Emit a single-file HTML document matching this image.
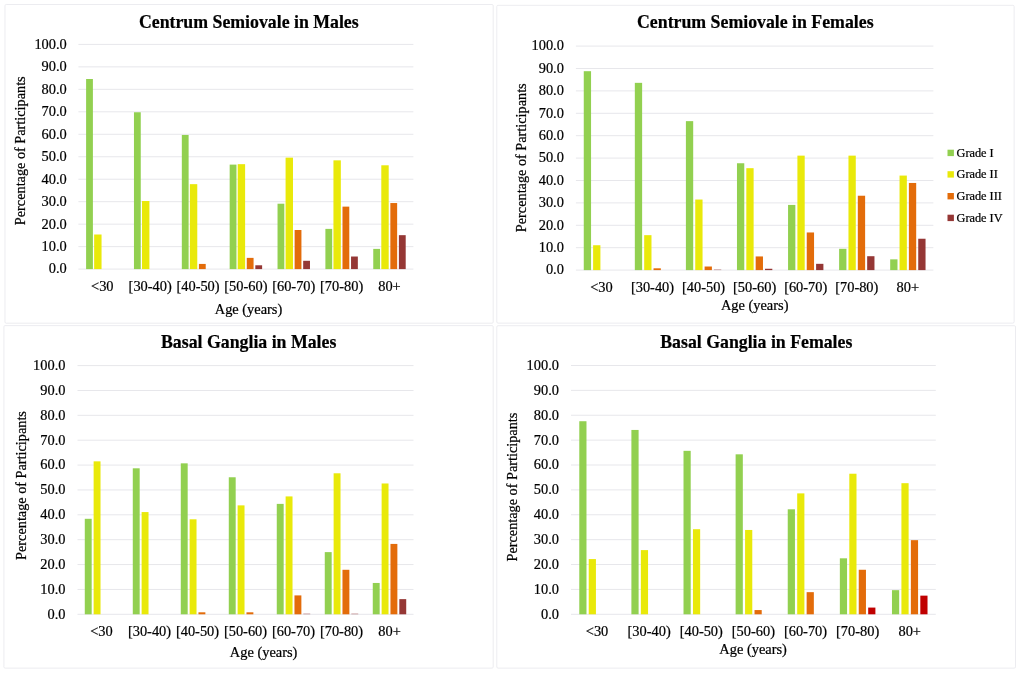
<!DOCTYPE html>
<html lang="en">
<head>
<meta charset="utf-8">
<title>Perivascular spaces by age, sex and region</title>
<style>
html,body{margin:0;padding:0;background:#fff;}
body{width:1020px;height:673px;overflow:hidden;}
svg{display:block;}
svg text{font-family:"Liberation Serif","Times New Roman",serif;fill:#000;stroke:#000;stroke-width:0.22px;}
</style>
</head>
<body>
<svg width="1020" height="673" viewBox="0 0 1020 673">
<rect x="0" y="0" width="1020" height="673" fill="#ffffff"/>
<rect x="5" y="4.5" width="488.2" height="318.7" rx="1.2" fill="#fff" stroke="#e8e8ed" stroke-width="0.85"/>
<line x1="78.4" y1="269.1" x2="413.4" y2="269.1" stroke="#e7e7eb" stroke-width="1"/>
<line x1="78.4" y1="246.63" x2="413.4" y2="246.63" stroke="#e7e7eb" stroke-width="1"/>
<line x1="78.4" y1="224.16" x2="413.4" y2="224.16" stroke="#e7e7eb" stroke-width="1"/>
<line x1="78.4" y1="201.69" x2="413.4" y2="201.69" stroke="#e7e7eb" stroke-width="1"/>
<line x1="78.4" y1="179.22" x2="413.4" y2="179.22" stroke="#e7e7eb" stroke-width="1"/>
<line x1="78.4" y1="156.75" x2="413.4" y2="156.75" stroke="#e7e7eb" stroke-width="1"/>
<line x1="78.4" y1="134.28" x2="413.4" y2="134.28" stroke="#e7e7eb" stroke-width="1"/>
<line x1="78.4" y1="111.81" x2="413.4" y2="111.81" stroke="#e7e7eb" stroke-width="1"/>
<line x1="78.4" y1="89.34" x2="413.4" y2="89.34" stroke="#e7e7eb" stroke-width="1"/>
<line x1="78.4" y1="66.87" x2="413.4" y2="66.87" stroke="#e7e7eb" stroke-width="1"/>
<line x1="78.4" y1="44.4" x2="413.4" y2="44.4" stroke="#e7e7eb" stroke-width="1"/>
<rect x="86.1" y="79" width="6.8" height="190.1" fill="#92d050"/>
<rect x="94.15" y="234.5" width="7.4" height="34.6" fill="#e9e90a"/>
<rect x="133.96" y="112.26" width="6.8" height="156.84" fill="#92d050"/>
<rect x="142.01" y="201.02" width="7.4" height="68.08" fill="#e9e90a"/>
<rect x="181.82" y="134.95" width="6.8" height="134.15" fill="#92d050"/>
<rect x="189.87" y="184.16" width="7.4" height="84.94" fill="#e9e90a"/>
<rect x="198.92" y="263.93" width="6.8" height="5.17" fill="#e36c0a"/>
<rect x="229.67" y="164.61" width="6.8" height="104.49" fill="#92d050"/>
<rect x="237.72" y="164.17" width="7.4" height="104.93" fill="#e9e90a"/>
<rect x="246.77" y="257.87" width="6.8" height="11.23" fill="#e36c0a"/>
<rect x="255.32" y="265.28" width="6.8" height="3.82" fill="#953735"/>
<rect x="277.53" y="203.71" width="6.8" height="65.39" fill="#92d050"/>
<rect x="285.58" y="157.65" width="7.4" height="111.45" fill="#e9e90a"/>
<rect x="294.63" y="230" width="6.8" height="39.1" fill="#e36c0a"/>
<rect x="303.18" y="260.79" width="6.8" height="8.31" fill="#953735"/>
<rect x="325.39" y="228.88" width="6.8" height="40.22" fill="#92d050"/>
<rect x="333.44" y="160.35" width="7.4" height="108.75" fill="#e9e90a"/>
<rect x="342.49" y="206.63" width="6.8" height="62.47" fill="#e36c0a"/>
<rect x="351.04" y="256.52" width="6.8" height="12.58" fill="#953735"/>
<rect x="373.25" y="248.88" width="6.8" height="20.22" fill="#92d050"/>
<rect x="381.3" y="165.29" width="7.4" height="103.81" fill="#e9e90a"/>
<rect x="390.35" y="203.04" width="6.8" height="66.06" fill="#e36c0a"/>
<rect x="398.9" y="235.17" width="6.8" height="33.93" fill="#953735"/>
<text x="66.8" y="269.1" dy="0.305em" text-anchor="end" font-size="14.4">0.0</text>
<text x="66.8" y="246.63" dy="0.305em" text-anchor="end" font-size="14.4">10.0</text>
<text x="66.8" y="224.16" dy="0.305em" text-anchor="end" font-size="14.4">20.0</text>
<text x="66.8" y="201.69" dy="0.305em" text-anchor="end" font-size="14.4">30.0</text>
<text x="66.8" y="179.22" dy="0.305em" text-anchor="end" font-size="14.4">40.0</text>
<text x="66.8" y="156.75" dy="0.305em" text-anchor="end" font-size="14.4">50.0</text>
<text x="66.8" y="134.28" dy="0.305em" text-anchor="end" font-size="14.4">60.0</text>
<text x="66.8" y="111.81" dy="0.305em" text-anchor="end" font-size="14.4">70.0</text>
<text x="66.8" y="89.34" dy="0.305em" text-anchor="end" font-size="14.4">80.0</text>
<text x="66.8" y="66.87" dy="0.305em" text-anchor="end" font-size="14.4">90.0</text>
<text x="66.8" y="44.4" dy="0.305em" text-anchor="end" font-size="14.4">100.0</text>
<text x="102.33" y="286.3" dy="0.33em" text-anchor="middle" font-size="14.4">&lt;30</text>
<text x="150.19" y="286.3" dy="0.33em" text-anchor="middle" font-size="14.4">[30-40)</text>
<text x="198.04" y="286.3" dy="0.33em" text-anchor="middle" font-size="14.4">[40-50)</text>
<text x="245.9" y="286.3" dy="0.33em" text-anchor="middle" font-size="14.4">[50-60)</text>
<text x="293.76" y="286.3" dy="0.33em" text-anchor="middle" font-size="14.4">[60-70)</text>
<text x="341.61" y="286.3" dy="0.33em" text-anchor="middle" font-size="14.4">[70-80)</text>
<text x="389.47" y="286.3" dy="0.33em" text-anchor="middle" font-size="14.4">80+</text>
<text x="248.5" y="309" dy="0.33em" text-anchor="middle" font-size="14.4">Age (years)</text>
<text transform="translate(25,150.75) rotate(-90)" text-anchor="middle" font-size="14.25">Percentage of Participants</text>
<text x="248.8" y="22" dy="0.33em" text-anchor="middle" font-size="17.8" font-weight="bold">Centrum Semiovale in Males</text>
<rect x="496.8" y="5.3" width="517.3" height="317.8" rx="1.2" fill="#fff" stroke="#e8e8ed" stroke-width="0.85"/>
<line x1="575.9" y1="270.1" x2="933.4" y2="270.1" stroke="#e7e7eb" stroke-width="1"/>
<line x1="575.9" y1="247.7" x2="933.4" y2="247.7" stroke="#e7e7eb" stroke-width="1"/>
<line x1="575.9" y1="225.3" x2="933.4" y2="225.3" stroke="#e7e7eb" stroke-width="1"/>
<line x1="575.9" y1="202.9" x2="933.4" y2="202.9" stroke="#e7e7eb" stroke-width="1"/>
<line x1="575.9" y1="180.5" x2="933.4" y2="180.5" stroke="#e7e7eb" stroke-width="1"/>
<line x1="575.9" y1="158.1" x2="933.4" y2="158.1" stroke="#e7e7eb" stroke-width="1"/>
<line x1="575.9" y1="135.7" x2="933.4" y2="135.7" stroke="#e7e7eb" stroke-width="1"/>
<line x1="575.9" y1="113.3" x2="933.4" y2="113.3" stroke="#e7e7eb" stroke-width="1"/>
<line x1="575.9" y1="90.9" x2="933.4" y2="90.9" stroke="#e7e7eb" stroke-width="1"/>
<line x1="575.9" y1="68.5" x2="933.4" y2="68.5" stroke="#e7e7eb" stroke-width="1"/>
<line x1="575.9" y1="46.1" x2="933.4" y2="46.1" stroke="#e7e7eb" stroke-width="1"/>
<rect x="583.76" y="71.19" width="7.3" height="198.91" fill="#92d050"/>
<rect x="593.11" y="245.24" width="7.3" height="24.86" fill="#e9e90a"/>
<rect x="634.83" y="82.84" width="7.3" height="187.26" fill="#92d050"/>
<rect x="644.18" y="235.16" width="7.3" height="34.94" fill="#e9e90a"/>
<rect x="653.53" y="268.31" width="7.3" height="1.79" fill="#e36c0a"/>
<rect x="685.9" y="121.14" width="7.3" height="148.96" fill="#92d050"/>
<rect x="695.25" y="199.54" width="7.3" height="70.56" fill="#e9e90a"/>
<rect x="704.6" y="266.52" width="7.3" height="3.58" fill="#e36c0a"/>
<rect x="713.95" y="269.43" width="7.3" height="0.67" fill="#953735" fill-opacity="0.55"/>
<rect x="736.97" y="163.25" width="7.3" height="106.85" fill="#92d050"/>
<rect x="746.32" y="168.18" width="7.3" height="101.92" fill="#e9e90a"/>
<rect x="755.67" y="256.44" width="7.3" height="13.66" fill="#e36c0a"/>
<rect x="765.02" y="268.76" width="7.3" height="1.34" fill="#953735"/>
<rect x="788.05" y="204.92" width="7.3" height="65.18" fill="#92d050"/>
<rect x="797.4" y="155.64" width="7.3" height="114.46" fill="#e9e90a"/>
<rect x="806.75" y="232.47" width="7.3" height="37.63" fill="#e36c0a"/>
<rect x="816.1" y="263.83" width="7.3" height="6.27" fill="#953735"/>
<rect x="839.12" y="248.82" width="7.3" height="21.28" fill="#92d050"/>
<rect x="848.47" y="155.64" width="7.3" height="114.46" fill="#e9e90a"/>
<rect x="857.82" y="195.73" width="7.3" height="74.37" fill="#e36c0a"/>
<rect x="867.17" y="256.21" width="7.3" height="13.89" fill="#953735"/>
<rect x="890.19" y="259.35" width="7.3" height="10.75" fill="#92d050"/>
<rect x="899.54" y="175.57" width="7.3" height="94.53" fill="#e9e90a"/>
<rect x="908.89" y="182.96" width="7.3" height="87.14" fill="#e36c0a"/>
<rect x="918.24" y="238.74" width="7.3" height="31.36" fill="#953735"/>
<text x="563.9" y="270.1" dy="0.305em" text-anchor="end" font-size="14.4">0.0</text>
<text x="563.9" y="247.7" dy="0.305em" text-anchor="end" font-size="14.4">10.0</text>
<text x="563.9" y="225.3" dy="0.305em" text-anchor="end" font-size="14.4">20.0</text>
<text x="563.9" y="202.9" dy="0.305em" text-anchor="end" font-size="14.4">30.0</text>
<text x="563.9" y="180.5" dy="0.305em" text-anchor="end" font-size="14.4">40.0</text>
<text x="563.9" y="158.1" dy="0.305em" text-anchor="end" font-size="14.4">50.0</text>
<text x="563.9" y="135.7" dy="0.305em" text-anchor="end" font-size="14.4">60.0</text>
<text x="563.9" y="113.3" dy="0.305em" text-anchor="end" font-size="14.4">70.0</text>
<text x="563.9" y="90.9" dy="0.305em" text-anchor="end" font-size="14.4">80.0</text>
<text x="563.9" y="68.5" dy="0.305em" text-anchor="end" font-size="14.4">90.0</text>
<text x="563.9" y="46.1" dy="0.305em" text-anchor="end" font-size="14.4">100.0</text>
<text x="601.44" y="287.2" dy="0.33em" text-anchor="middle" font-size="14.4">&lt;30</text>
<text x="652.51" y="287.2" dy="0.33em" text-anchor="middle" font-size="14.4">[30-40)</text>
<text x="703.58" y="287.2" dy="0.33em" text-anchor="middle" font-size="14.4">[40-50)</text>
<text x="754.65" y="287.2" dy="0.33em" text-anchor="middle" font-size="14.4">[50-60)</text>
<text x="805.72" y="287.2" dy="0.33em" text-anchor="middle" font-size="14.4">[60-70)</text>
<text x="856.79" y="287.2" dy="0.33em" text-anchor="middle" font-size="14.4">[70-80)</text>
<text x="907.86" y="287.2" dy="0.33em" text-anchor="middle" font-size="14.4">80+</text>
<text x="754.7" y="305" dy="0.33em" text-anchor="middle" font-size="14.4">Age (years)</text>
<text transform="translate(526.2,157.75) rotate(-90)" text-anchor="middle" font-size="14.25">Percentage of Participants</text>
<text x="755.3" y="22.5" dy="0.33em" text-anchor="middle" font-size="17.8" font-weight="bold">Centrum Semiovale in Females</text>
<rect x="3.9" y="325.6" width="489.3" height="342.5" rx="1.2" fill="#fff" stroke="#e8e8ed" stroke-width="0.85"/>
<line x1="77.5" y1="614.3" x2="413.5" y2="614.3" stroke="#e7e7eb" stroke-width="1"/>
<line x1="77.5" y1="589.43" x2="413.5" y2="589.43" stroke="#e7e7eb" stroke-width="1"/>
<line x1="77.5" y1="564.56" x2="413.5" y2="564.56" stroke="#e7e7eb" stroke-width="1"/>
<line x1="77.5" y1="539.69" x2="413.5" y2="539.69" stroke="#e7e7eb" stroke-width="1"/>
<line x1="77.5" y1="514.82" x2="413.5" y2="514.82" stroke="#e7e7eb" stroke-width="1"/>
<line x1="77.5" y1="489.95" x2="413.5" y2="489.95" stroke="#e7e7eb" stroke-width="1"/>
<line x1="77.5" y1="465.08" x2="413.5" y2="465.08" stroke="#e7e7eb" stroke-width="1"/>
<line x1="77.5" y1="440.21" x2="413.5" y2="440.21" stroke="#e7e7eb" stroke-width="1"/>
<line x1="77.5" y1="415.34" x2="413.5" y2="415.34" stroke="#e7e7eb" stroke-width="1"/>
<line x1="77.5" y1="390.47" x2="413.5" y2="390.47" stroke="#e7e7eb" stroke-width="1"/>
<line x1="77.5" y1="365.6" x2="413.5" y2="365.6" stroke="#e7e7eb" stroke-width="1"/>
<rect x="84.78" y="518.8" width="6.9" height="95.5" fill="#92d050"/>
<rect x="93.62" y="461.35" width="6.9" height="152.95" fill="#e9e90a"/>
<rect x="132.78" y="468.31" width="6.9" height="145.99" fill="#92d050"/>
<rect x="141.62" y="512.08" width="6.9" height="102.22" fill="#e9e90a"/>
<rect x="180.78" y="463.34" width="6.9" height="150.96" fill="#92d050"/>
<rect x="189.62" y="519.3" width="6.9" height="95" fill="#e9e90a"/>
<rect x="198.47" y="612.31" width="6.9" height="1.99" fill="#e36c0a"/>
<rect x="228.78" y="477.27" width="6.9" height="137.03" fill="#92d050"/>
<rect x="237.62" y="505.37" width="6.9" height="108.93" fill="#e9e90a"/>
<rect x="246.47" y="612.31" width="6.9" height="1.99" fill="#e36c0a"/>
<rect x="276.77" y="503.88" width="6.9" height="110.42" fill="#92d050"/>
<rect x="285.62" y="496.42" width="6.9" height="117.88" fill="#e9e90a"/>
<rect x="294.47" y="595.4" width="6.9" height="18.9" fill="#e36c0a"/>
<rect x="303.32" y="613.55" width="6.9" height="0.75" fill="#953735" fill-opacity="0.55"/>
<rect x="324.77" y="552.12" width="6.9" height="62.17" fill="#92d050"/>
<rect x="333.62" y="473.29" width="6.9" height="141.01" fill="#e9e90a"/>
<rect x="342.47" y="569.78" width="6.9" height="44.52" fill="#e36c0a"/>
<rect x="351.32" y="613.55" width="6.9" height="0.75" fill="#953735" fill-opacity="0.55"/>
<rect x="372.77" y="582.96" width="6.9" height="31.34" fill="#92d050"/>
<rect x="381.62" y="483.48" width="6.9" height="130.82" fill="#e9e90a"/>
<rect x="390.47" y="543.92" width="6.9" height="70.38" fill="#e36c0a"/>
<rect x="399.32" y="599.13" width="6.9" height="15.17" fill="#953735"/>
<text x="65.45" y="614.3" dy="0.305em" text-anchor="end" font-size="14.4">0.0</text>
<text x="65.45" y="589.43" dy="0.305em" text-anchor="end" font-size="14.4">10.0</text>
<text x="65.45" y="564.56" dy="0.305em" text-anchor="end" font-size="14.4">20.0</text>
<text x="65.45" y="539.69" dy="0.305em" text-anchor="end" font-size="14.4">30.0</text>
<text x="65.45" y="514.82" dy="0.305em" text-anchor="end" font-size="14.4">40.0</text>
<text x="65.45" y="489.95" dy="0.305em" text-anchor="end" font-size="14.4">50.0</text>
<text x="65.45" y="465.08" dy="0.305em" text-anchor="end" font-size="14.4">60.0</text>
<text x="65.45" y="440.21" dy="0.305em" text-anchor="end" font-size="14.4">70.0</text>
<text x="65.45" y="415.34" dy="0.305em" text-anchor="end" font-size="14.4">80.0</text>
<text x="65.45" y="390.47" dy="0.305em" text-anchor="end" font-size="14.4">90.0</text>
<text x="65.45" y="365.6" dy="0.305em" text-anchor="end" font-size="14.4">100.0</text>
<text x="101.5" y="631.6" dy="0.33em" text-anchor="middle" font-size="14.4">&lt;30</text>
<text x="149.5" y="631.6" dy="0.33em" text-anchor="middle" font-size="14.4">[30-40)</text>
<text x="197.5" y="631.6" dy="0.33em" text-anchor="middle" font-size="14.4">[40-50)</text>
<text x="245.5" y="631.6" dy="0.33em" text-anchor="middle" font-size="14.4">[50-60)</text>
<text x="293.5" y="631.6" dy="0.33em" text-anchor="middle" font-size="14.4">[60-70)</text>
<text x="341.5" y="631.6" dy="0.33em" text-anchor="middle" font-size="14.4">[70-80)</text>
<text x="389.5" y="631.6" dy="0.33em" text-anchor="middle" font-size="14.4">80+</text>
<text x="263.6" y="652" dy="0.33em" text-anchor="middle" font-size="14.4">Age (years)</text>
<text transform="translate(25.5,485.5) rotate(-90)" text-anchor="middle" font-size="14.25">Percentage of Participants</text>
<text x="248.7" y="342.6" dy="0.33em" text-anchor="middle" font-size="17.8" font-weight="bold">Basal Ganglia in Males</text>
<rect x="496.8" y="325.7" width="518.7" height="342.4" rx="1.2" fill="#fff" stroke="#e8e8ed" stroke-width="0.85"/>
<line x1="571" y1="614.3" x2="935.8" y2="614.3" stroke="#e7e7eb" stroke-width="1"/>
<line x1="571" y1="589.42" x2="935.8" y2="589.42" stroke="#e7e7eb" stroke-width="1"/>
<line x1="571" y1="564.54" x2="935.8" y2="564.54" stroke="#e7e7eb" stroke-width="1"/>
<line x1="571" y1="539.66" x2="935.8" y2="539.66" stroke="#e7e7eb" stroke-width="1"/>
<line x1="571" y1="514.78" x2="935.8" y2="514.78" stroke="#e7e7eb" stroke-width="1"/>
<line x1="571" y1="489.9" x2="935.8" y2="489.9" stroke="#e7e7eb" stroke-width="1"/>
<line x1="571" y1="465.02" x2="935.8" y2="465.02" stroke="#e7e7eb" stroke-width="1"/>
<line x1="571" y1="440.14" x2="935.8" y2="440.14" stroke="#e7e7eb" stroke-width="1"/>
<line x1="571" y1="415.26" x2="935.8" y2="415.26" stroke="#e7e7eb" stroke-width="1"/>
<line x1="571" y1="390.38" x2="935.8" y2="390.38" stroke="#e7e7eb" stroke-width="1"/>
<line x1="571" y1="365.5" x2="935.8" y2="365.5" stroke="#e7e7eb" stroke-width="1"/>
<rect x="579.28" y="421.23" width="7.2" height="193.07" fill="#92d050"/>
<rect x="588.73" y="559.07" width="7.2" height="55.23" fill="#e9e90a"/>
<rect x="631.4" y="429.94" width="7.2" height="184.36" fill="#92d050"/>
<rect x="640.85" y="550.11" width="7.2" height="64.19" fill="#e9e90a"/>
<rect x="683.51" y="450.84" width="7.2" height="163.46" fill="#92d050"/>
<rect x="692.96" y="529.21" width="7.2" height="85.09" fill="#e9e90a"/>
<rect x="735.62" y="454.32" width="7.2" height="159.98" fill="#92d050"/>
<rect x="745.08" y="529.96" width="7.2" height="84.34" fill="#e9e90a"/>
<rect x="754.52" y="610.07" width="7.2" height="4.23" fill="#e36c0a"/>
<rect x="787.74" y="509.31" width="7.2" height="104.99" fill="#92d050"/>
<rect x="797.19" y="493.38" width="7.2" height="120.92" fill="#e9e90a"/>
<rect x="806.64" y="592.16" width="7.2" height="22.14" fill="#e36c0a"/>
<rect x="839.85" y="558.32" width="7.2" height="55.98" fill="#92d050"/>
<rect x="849.3" y="473.73" width="7.2" height="140.57" fill="#e9e90a"/>
<rect x="858.75" y="569.76" width="7.2" height="44.54" fill="#e36c0a"/>
<rect x="868.2" y="607.58" width="7.2" height="6.72" fill="#c00000"/>
<rect x="891.97" y="590.17" width="7.2" height="24.13" fill="#92d050"/>
<rect x="901.42" y="483.18" width="7.2" height="131.12" fill="#e9e90a"/>
<rect x="910.87" y="540.16" width="7.2" height="74.14" fill="#e36c0a"/>
<rect x="920.32" y="595.64" width="7.2" height="18.66" fill="#c00000"/>
<text x="558.95" y="614.3" dy="0.305em" text-anchor="end" font-size="14.4">0.0</text>
<text x="558.95" y="589.42" dy="0.305em" text-anchor="end" font-size="14.4">10.0</text>
<text x="558.95" y="564.54" dy="0.305em" text-anchor="end" font-size="14.4">20.0</text>
<text x="558.95" y="539.66" dy="0.305em" text-anchor="end" font-size="14.4">30.0</text>
<text x="558.95" y="514.78" dy="0.305em" text-anchor="end" font-size="14.4">40.0</text>
<text x="558.95" y="489.9" dy="0.305em" text-anchor="end" font-size="14.4">50.0</text>
<text x="558.95" y="465.02" dy="0.305em" text-anchor="end" font-size="14.4">60.0</text>
<text x="558.95" y="440.14" dy="0.305em" text-anchor="end" font-size="14.4">70.0</text>
<text x="558.95" y="415.26" dy="0.305em" text-anchor="end" font-size="14.4">80.0</text>
<text x="558.95" y="390.38" dy="0.305em" text-anchor="end" font-size="14.4">90.0</text>
<text x="558.95" y="365.5" dy="0.305em" text-anchor="end" font-size="14.4">100.0</text>
<text x="597.06" y="631" dy="0.33em" text-anchor="middle" font-size="14.4">&lt;30</text>
<text x="649.17" y="631" dy="0.33em" text-anchor="middle" font-size="14.4">[30-40)</text>
<text x="701.29" y="631" dy="0.33em" text-anchor="middle" font-size="14.4">[40-50)</text>
<text x="753.4" y="631" dy="0.33em" text-anchor="middle" font-size="14.4">[50-60)</text>
<text x="805.51" y="631" dy="0.33em" text-anchor="middle" font-size="14.4">[60-70)</text>
<text x="857.63" y="631" dy="0.33em" text-anchor="middle" font-size="14.4">[70-80)</text>
<text x="909.74" y="631" dy="0.33em" text-anchor="middle" font-size="14.4">80+</text>
<text x="753.1" y="649.7" dy="0.33em" text-anchor="middle" font-size="14.4">Age (years)</text>
<text transform="translate(517,487.1) rotate(-90)" text-anchor="middle" font-size="14.25">Percentage of Participants</text>
<text x="756.3" y="342.5" dy="0.33em" text-anchor="middle" font-size="17.8" font-weight="bold">Basal Ganglia in Females</text>
<rect x="947.5" y="149.7" width="6.4" height="6.4" fill="#92d050"/>
<text x="956.5" y="152.5" dy="0.33em" font-size="12.3">Grade I</text>
<rect x="947.5" y="171.2" width="6.4" height="6.4" fill="#e9e90a"/>
<text x="956.5" y="174" dy="0.33em" font-size="12.3">Grade II</text>
<rect x="947.5" y="193" width="6.4" height="6.4" fill="#e36c0a"/>
<text x="956.5" y="195.8" dy="0.33em" font-size="12.3">Grade III</text>
<rect x="947.5" y="214.7" width="6.4" height="6.4" fill="#953735"/>
<text x="956.5" y="217.5" dy="0.33em" font-size="12.3">Grade IV</text>
</svg>
</body>
</html>
